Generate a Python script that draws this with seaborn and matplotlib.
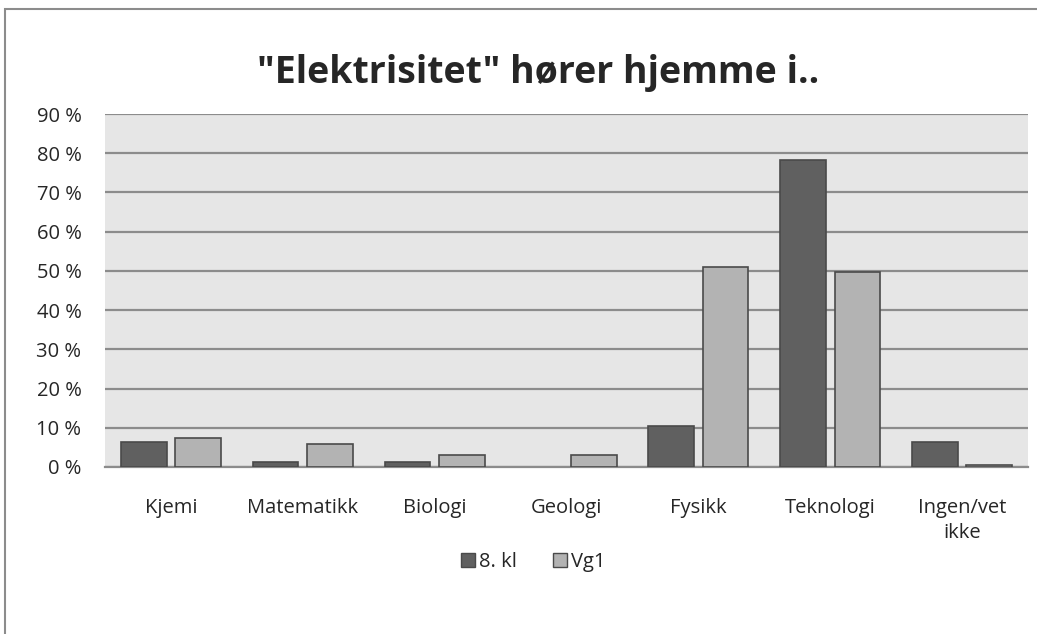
import pandas as pd
import matplotlib.pyplot as plt
import matplotlib.patches as mpatches
import seaborn as sns
from matplotlib.ticker import FuncFormatter

# Data (fraction of answers)
categories = ['Kjemi', 'Matematikk', 'Biologi', 'Geologi', 'Fysikk', 'Teknologi', 'Ingen/vet\nikke']
kl8 = [0.064, 0.013, 0.013, 0.0, 0.104, 0.783, 0.064]
vg1 = [0.074, 0.059, 0.030, 0.030, 0.511, 0.497, 0.006]
groups = ['8. kl', 'Vg1']

df = pd.DataFrame({
    'Kategori': categories * 2,
    'Andel': kl8 + vg1,
    'Gruppe': [groups[0]] * len(categories) + [groups[1]] * len(categories),
})

sns.set_style('white')
plt.rcParams['font.family'] = ['Open Sans', 'DejaVu Sans']

fig = plt.figure(figsize=(10.37, 6.34), dpi=100)
ax = fig.add_axes([105 / 1037, 1 - 467 / 634, 923 / 1037, 353 / 634])

sns.barplot(data=df, x='Kategori', y='Andel', hue='Gruppe', ax=ax,
            palette=['#606060', '#b3b3b3'], width=0.826, gap=0.16,
            edgecolor='#4a4a4a', linewidth=1.2, saturation=1, zorder=3)

# no outline on empty bars
for p in ax.patches:
    if p.get_height() == 0:
        p.set_linewidth(0)

ax.set_facecolor('#e6e6e6')
ax.set_ylim(0, 0.9)
ax.set_yticks([i / 10 for i in range(10)])
ax.yaxis.set_major_formatter(FuncFormatter(lambda v, p: f'{round(v * 100)} %'))
ax.grid(axis='y', color='#8c8c8c', linewidth=1.6, zorder=0)
ax.set_axisbelow(True)
for s in ['top', 'right', 'left']:
    ax.spines[s].set_visible(False)
ax.spines['bottom'].set_color('#8c8c8c')
ax.spines['bottom'].set_linewidth(1.6)
ax.tick_params(axis='y', length=0, pad=17, labelsize=14.5)
ax.tick_params(axis='x', length=0, pad=22, labelsize=14.5)
for lbl in ax.get_xticklabels():
    lbl.set_linespacing(1.35)
ax.set_xlabel('')
ax.set_ylabel('')

fig.text(0.519, 1 - 73 / 634, '"Elektrisitet" hører hjemme i..', ha='center', va='center',
         fontsize=27, fontweight='bold')

handles = [mpatches.Patch(facecolor='#606060', edgecolor='#4a4a4a', label=groups[0]),
           mpatches.Patch(facecolor='#b3b3b3', edgecolor='#4a4a4a', label=groups[1])]
ax.get_legend().remove()
fig.legend(handles=handles, loc='center', bbox_to_anchor=(533 / 1037, 1 - 562 / 634), ncol=2,
           frameon=False, fontsize=14.5, handlelength=0.7, handleheight=0.7,
           handletextpad=0.2, columnspacing=1.8)

# outer chart frame
fig.patches.append(mpatches.Rectangle((5 / 1037, -0.1), 2, 1.1 - 9 / 634, transform=fig.transFigure,
                                      fill=False, edgecolor='#8c8c8c', linewidth=1.5))

fig.savefig('out.png', dpi=100)
